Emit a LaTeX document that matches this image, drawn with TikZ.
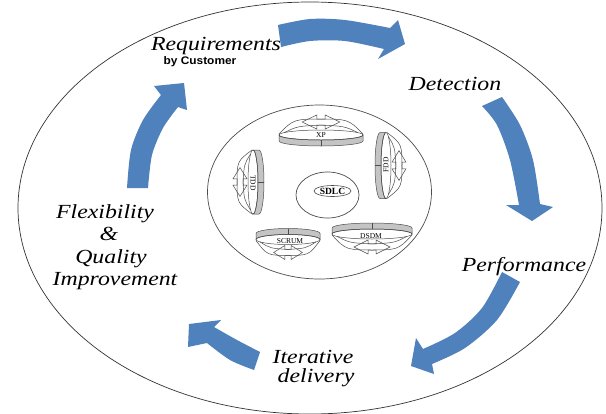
\documentclass[tikz,border=0pt]{standalone}
\usepackage{fontspec}
\usetikzlibrary{shapes.geometric}
\setmainfont{Liberation Serif}
\newfontfamily\labelsans{Liberation Sans}
\definecolor{flowblue}{HTML}{4F81BD}
\definecolor{bandgray}{HTML}{C4C4C4}
\begin{document}
\begin{tikzpicture}[x=1pt,y=-1pt,
  flow/.style={fill=flowblue},
  rim/.style={draw=black!80,line width=0.7pt},
  ringline/.style={draw=black!70,line width=0.5pt},
  stage/.style={font=\fontsize{20}{21}\selectfont\itshape,xscale=1.19,inner sep=0pt,anchor=base},
  iconlabel/.style={font=\fontsize{7.5}{8}\selectfont,inner sep=0pt},
  pics/cycicon/.style={code={
    % front face of the ring
    \filldraw[ringline,fill=bandgray] (-#1,0) arc[start angle=180,end angle=0,x radius=#1,y radius=5]
      -- (#1,6) arc[start angle=0,end angle=180,x radius=#1,y radius=5] -- cycle;
    \draw[ringline] (0,0) ellipse[x radius=#1,y radius=5];
    \draw[ringline] (0,5) -- (0,11);
    % two open arrows crossing behind the ring
    \begin{scope}[xscale=#1/40]
      \draw[ringline] (-35,-2.4) .. controls (-22,-9) .. (4,-10) -- (4,-6) -- (18,-13) -- (4,-20)
        -- (4,-16) .. controls (-26,-16) .. (-40,-1);
      \draw[ringline,xscale=-1] (-35,-2.4) .. controls (-22,-9) .. (4,-10) -- (4,-6) -- (18,-13) -- (4,-20)
        -- (4,-16) .. controls (-26,-16) .. (-40,-1);
    \end{scope}
  }}]
\useasboundingbox (0,0) rectangle (606,413);
\fill[white] (0,0) rectangle (606,413);

% outer boundary
\draw[rim] (310,208) ellipse[x radius=292,y radius=206];

% the five stages of the loop
\fill[flow] plot[smooth] coordinates {(278,25) (310,19) (345,20) (390,28)}
  -- (398,20) -- (405,44) -- (378,59)
  -- plot[smooth] coordinates {(384,49) (345,41) (310,41) (281,47)} -- cycle;
\fill[flow] plot[smooth] coordinates {(482,106) (497,125) (510,160) (519,205)}
  -- (506,205) -- (532,221) -- (553,207)
  -- plot[smooth] coordinates {(540,204) (533,160) (520,125) (502,97)} -- cycle;
\fill[flow] plot[smooth] coordinates {(502,272) (482,308) (455,333) (423,349)}
  -- (416,338) -- (411,366) -- (434,374)
  -- plot[smooth] coordinates {(432,364) (465,348) (497,320) (520,282)} -- cycle;
\fill[flow] plot[smooth] coordinates {(260,352) (237,340) (214,327)}
  -- (221,320) -- (189,324) -- (188,347)
  -- plot[smooth] coordinates {(207,343) (230,360) (254,370)} -- cycle;
\fill[flow] plot[smooth] coordinates {(127,188) (131,150) (143,120) (161,95)}
  -- (154,86) -- (184,83) -- (187,110)
  -- plot[smooth] coordinates {(178,107) (163,128) (152,155) (148,188)} -- cycle;

% inner region with the methods
\draw[rim,draw=black!70] (319.5,192) ellipse[x radius=112,y radius=87];
\draw[rim,draw=black!70] (327.5,195) ellipse[x radius=31.5,y radius=23];
\node[draw=black!70,line width=0.6pt,ellipse,inner sep=0pt,minimum width=37pt,minimum height=11pt,
  font=\fontsize{9.5}{10}\selectfont\bfseries] (sdlc) at (332.5,191) {SDLC};

\pic (xp) at (321,135) {cycicon=42};
\node[iconlabel] (xplbl) at (321,135) {XP};
\pic[rotate=90] (tdd) at (253,182) {cycicon=32};
\node[iconlabel,rotate=-90] (tddlbl) at (253,183) {TDD};
\pic[rotate=-90] (fdd) at (386,165.5) {cycicon=33};
\node[iconlabel,rotate=90] (fddlbl) at (386,165) {FDD};
\pic[rotate=180] (scrum) at (288,239.5) {cycicon=32};
\node[iconlabel] (scrumlbl) at (290,241) {SCRUM};
\pic[rotate=180] (dsdm) at (372,234) {cycicon=40};
\node[iconlabel] (dsdmlbl) at (371,236) {DSDM};

% stage captions
\node[stage] (req) at (216,50) {Requirements};
\node[font=\labelsans\fontsize{11}{12}\selectfont\bfseries,xscale=1.08,inner sep=0pt,anchor=base] (cust) at (200,64) {by Customer};
\node[stage] (det) at (455,90) {Detection};
\node[stage] (perf) at (524,271) {Performance};
\node[stage] (iter) at (313,363) {Iterative};
\node[stage] (deliv) at (316,382) {delivery};
\node[stage] (flex) at (105,218) {Flexibility};
\node[stage] (amp) at (109,240) {\&};
\node[stage] (qual) at (111,263) {Quality};
\node[stage] (impr) at (115,285) {Improvement};
\end{tikzpicture}
\end{document}
